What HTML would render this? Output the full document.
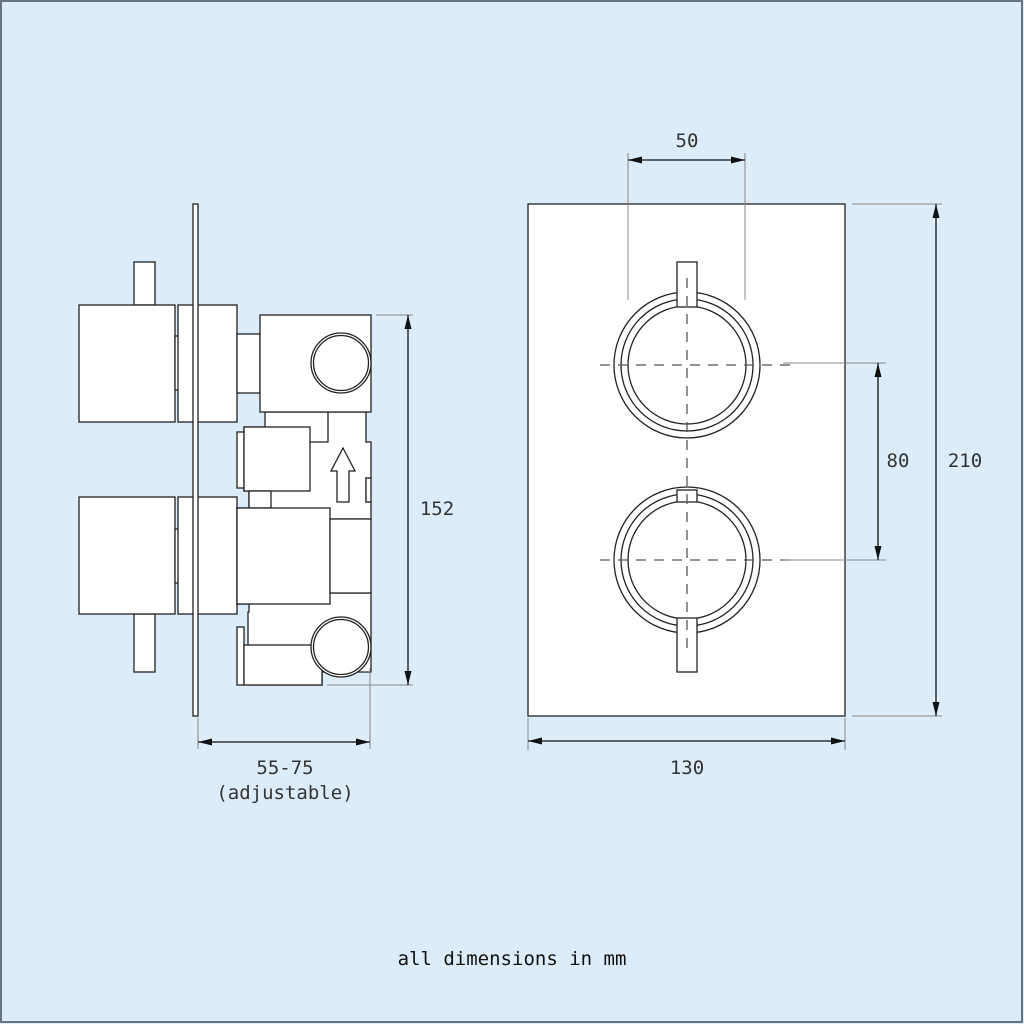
<!DOCTYPE html>
<html><head><meta charset="utf-8"><style>
html,body{margin:0;padding:0;background:#ddecf9}
svg{display:block}
text{font-family:"DejaVu Sans Mono","Liberation Mono",monospace;fill:#333}
</style></head><body>
<svg width="1024" height="1024" viewBox="0 0 1024 1024" xmlns="http://www.w3.org/2000/svg">
<defs>
<marker id="a" viewBox="0 0 14 7" refX="14" refY="3.5" markerWidth="14" markerHeight="7" orient="auto-start-reverse" markerUnits="userSpaceOnUse"><path d="M0,0L14,3.5L0,7z" fill="#111"/></marker>
</defs>
<rect x="0" y="0" width="1024" height="1024" fill="#ddecf9"/>
<rect x="1" y="1" width="1021" height="1021" fill="none" stroke="#6a7480" stroke-width="2"/>

<g fill="#fff" stroke="#222" stroke-width="1.3">
<rect x="134" y="262" width="21" height="43"/>
<rect x="134" y="614" width="21" height="58"/>
<rect x="79" y="305" width="96" height="117"/>
<rect x="79" y="497" width="96" height="117"/>
<rect x="175" y="336" width="4" height="54"/>
<rect x="175" y="529" width="4" height="54"/>
<rect x="178" y="305" width="59" height="117"/>
<rect x="178" y="497" width="59" height="117"/>
<path d="M265,412 V427 H244 V491 H249 V508 H237 V604 H249 V612 H248 V685 H322 V672 H371 V593 H330 V519 H371 V502 H366 V478 H371 V442 H366 V412 Z"/>
<rect x="237" y="334" width="23" height="59"/>
<rect x="260" y="315" width="111" height="97"/>
<circle cx="341" cy="363" r="30"/><circle cx="341" cy="363" r="27.5"/>
<path d="M328,412 V442 H310" fill="none"/>
<rect x="237" y="432" width="7" height="56"/>
<rect x="244" y="427" width="66" height="64"/>
<rect x="249" y="491" width="22" height="17"/>
<rect x="237" y="508" width="93" height="96"/>
<rect x="330" y="519" width="41" height="74"/>
<rect x="366" y="478" width="5" height="24"/>
<path d="M337,502 V471 H331 L343,448 L355,471 H349 V502 Z"/>
<rect x="237" y="627" width="7" height="58"/>
<rect x="244" y="645" width="78" height="40"/>
<circle cx="341" cy="647" r="30"/><circle cx="341" cy="647" r="27.5"/>
<rect x="193" y="204" width="5" height="512"/>

<rect x="528" y="204" width="317" height="512"/>
<circle cx="687" cy="365" r="73"/><circle cx="687" cy="365" r="66"/><circle cx="687" cy="365" r="59"/>
<circle cx="687" cy="560" r="73"/><circle cx="687" cy="560" r="66"/><circle cx="687" cy="560" r="59"/>
<rect x="677" y="262" width="20" height="45"/>
<rect x="677" y="490" width="20" height="12"/>
<rect x="677" y="618" width="20" height="54"/>
</g>

<g stroke="#555" stroke-width="1.3" stroke-dasharray="10,8" fill="none">
<line x1="687" y1="278" x2="687" y2="652"/>
<line x1="600" y1="365" x2="790" y2="365"/>
<line x1="600" y1="560" x2="790" y2="560"/>
</g>

<g stroke="#888" stroke-width="1" fill="none">
<line x1="628" y1="153" x2="628" y2="300"/>
<line x1="745" y1="153" x2="745" y2="300"/>
<line x1="783" y1="363" x2="886" y2="363"/>
<line x1="783" y1="560" x2="886" y2="560"/>
<line x1="852" y1="204" x2="942" y2="204"/>
<line x1="852" y1="716" x2="942" y2="716"/>
<line x1="528" y1="718" x2="528" y2="750"/>
<line x1="845" y1="718" x2="845" y2="750"/>
<line x1="376" y1="315" x2="413" y2="315"/>
<line x1="327" y1="685" x2="413" y2="685"/>
<line x1="370" y1="668" x2="370" y2="749"/>
<line x1="198" y1="718" x2="198" y2="749"/>
</g>

<g stroke="#111" stroke-width="1.3" fill="none">
<line x1="628" y1="160" x2="745" y2="160" marker-start="url(#a)" marker-end="url(#a)"/>
<line x1="878" y1="363" x2="878" y2="560" marker-start="url(#a)" marker-end="url(#a)"/>
<line x1="936" y1="204" x2="936" y2="716" marker-start="url(#a)" marker-end="url(#a)"/>
<line x1="528" y1="741" x2="845" y2="741" marker-start="url(#a)" marker-end="url(#a)"/>
<line x1="408" y1="315" x2="408" y2="685" marker-start="url(#a)" marker-end="url(#a)"/>
<line x1="198" y1="742" x2="370" y2="742" marker-start="url(#a)" marker-end="url(#a)"/>
</g>

<g font-size="19" text-anchor="middle" fill="#444">
<text x="687" y="147">50</text>
<text x="898" y="467">80</text>
<text x="965" y="467">210</text>
<text x="687" y="774">130</text>
<text x="437" y="515">152</text>
<text x="285" y="774">55-75</text>
<text x="285" y="799">(adjustable)</text>
<text x="512" y="965" style="fill:#111">all dimensions in mm</text>
</g>
</svg>
</body></html>
